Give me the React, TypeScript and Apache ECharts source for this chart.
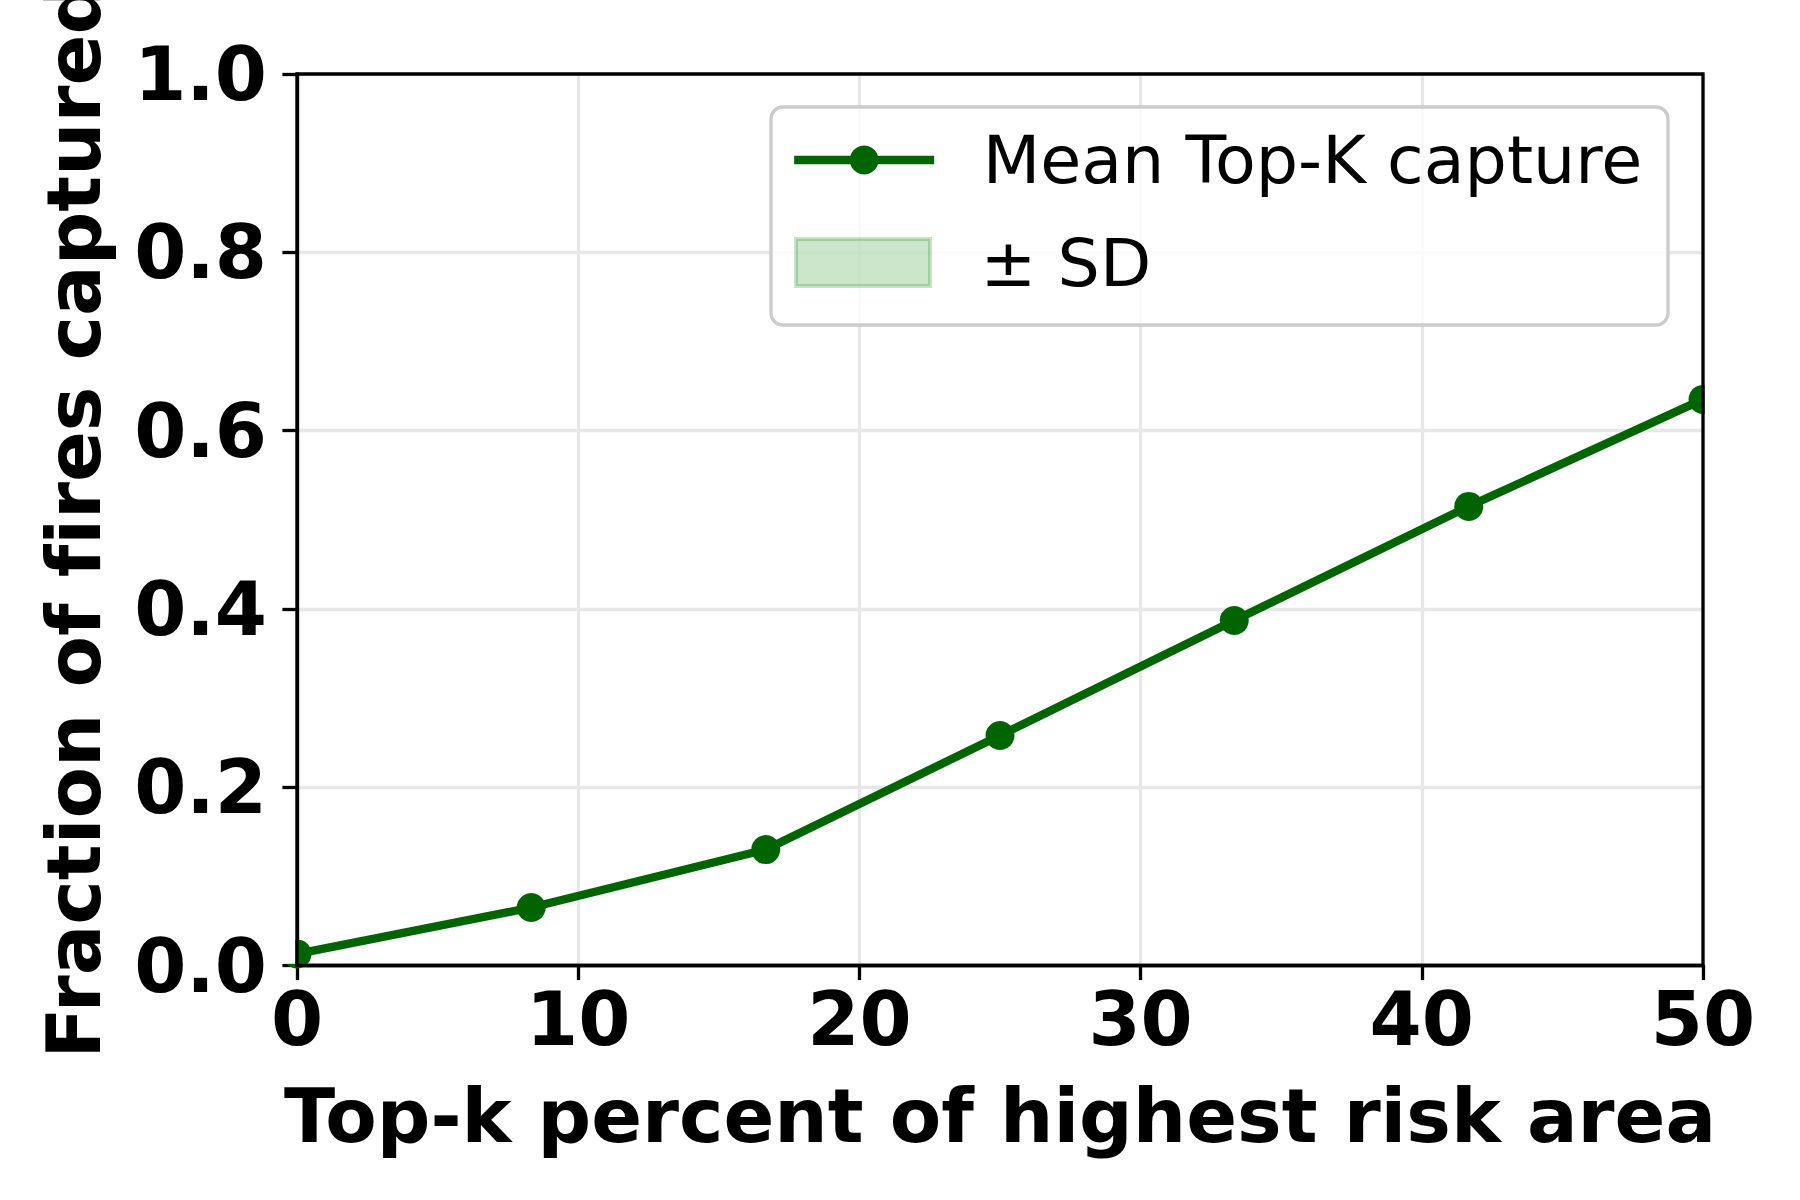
import React, { useEffect, useRef } from "react";
import * as echarts from "echarts";

const xValues = [0, 8.33, 16.67, 25, 33.33, 41.67, 50];
const meanCapture = [0.013, 0.065, 0.13, 0.258, 0.387, 0.515, 0.635];
const sdCapture = [0, 0, 0, 0, 0, 0, 0];
const xAxisTitle = "Top-k percent of highest risk area";
const yAxisTitle = "Fraction of fires captured";
const meanName = "Mean Top-K capture";
const sdName = "± SD";

const GRID_LEFT = 297;
const GRID_RIGHT = 97;
const GRID_TOP = 74;
const GRID_BOTTOM = 234.5;
const W = 1800;
const H = 1200;

export default function App() {
  const ref = useRef<HTMLDivElement>(null);
  useEffect(() => {
    document.body.style.margin = "0";
    const styleEl = document.createElement("style");
    styleEl.textContent =
      'svg text, svg tspan { font-variant-ligatures: none !important; font-feature-settings: "liga" 0, "clig" 0 !important; }';
    document.head.appendChild(styleEl);
    const chart = echarts.init(ref.current!, null, { renderer: "svg" });
    const bold = { fontFamily: "DejaVu Sans", fontWeight: "bold" as const, fontSize: 75, color: "#000", lineHeight: 75 };
    const frame = {
      type: "rect",
      shape: { x: 771, y: 107, width: 897, height: 218, r: 12 },
      style: { fill: "rgba(255,255,255,0.8)", stroke: "#cccccc", lineWidth: 3.3 },
      z: 8,
    };
    chart.setOption({
      animation: false,
      backgroundColor: "#fff",
      grid: {
        left: GRID_LEFT,
        right: GRID_RIGHT,
        top: GRID_TOP,
        bottom: GRID_BOTTOM,
        show: true,
        borderColor: "#000",
        borderWidth: 3.3,
        containLabel: false,
        outerBoundsMode: "none",
        z: 6,
      },
      xAxis: {
        type: "value",
        min: 0,
        max: 50,
        interval: 10,
        name: xAxisTitle,
        nameLocation: "middle",
        nameGap: 112.5,
        nameTextStyle: bold,
        axisLine: { show: true, lineStyle: { color: "#000", width: 3.3 } },
        axisTick: { show: true, length: 14.6, lineStyle: { color: "#000", width: 3.3 } },
        axisLabel: { ...bold, margin: 16 },
        splitLine: { show: true, lineStyle: { color: "#e7e7e7", width: 3.3 } },
      },
      yAxis: {
        type: "value",
        min: 0,
        max: 1,
        interval: 0.2,
        name: yAxisTitle,
        nameLocation: "middle",
        nameRotate: 90,
        nameGap: 185.5,
        nameTextStyle: bold,
        axisLine: { show: true, lineStyle: { color: "#000", width: 3.3 } },
        axisTick: { show: true, length: 14.6, lineStyle: { color: "#000", width: 3.3 } },
        axisLabel: { ...bold, margin: 30, formatter: (v: number) => v.toFixed(1) },
        splitLine: { show: true, lineStyle: { color: "#e7e7e7", width: 3.3 } },
      },
      legend: [
        {
          data: [{ name: meanName }],
          left: 790,
          top: 126.5,
          orient: "vertical",
          padding: 0,
          itemWidth: 140,
          itemHeight: 36,
          selectedMode: false,
          z: 10,
          lineStyle: { width: 8.3, color: "#006400" },
          textStyle: { fontFamily: "DejaVu Sans", fontSize: 66.7, lineHeight: 36, color: "#000", padding: [0, 0, 0, 43.5] },
        },
        {
          data: [
            {
              name: sdName,
              icon: "rect",
              itemStyle: { color: "rgba(0,128,0,0.2)", borderColor: "rgba(0,128,0,0.22)", borderWidth: 4 },
            },
          ],
          left: 794,
          top: 229,
          orient: "vertical",
          padding: 0,
          itemWidth: 134,
          itemHeight: 47,
          selectedMode: false,
          z: 10,
          textStyle: { fontFamily: "DejaVu Sans", fontSize: 66.7, lineHeight: 47, color: "#000", padding: [0, 0, 0, 45.5] },
        },
      ],
      graphic: [frame],
      series: [
        {
          name: sdName,
          type: "custom",
          coordinateSystem: "cartesian2d",
          data: xValues.map((x, i) => [x, meanCapture[i] - sdCapture[i], meanCapture[i] + sdCapture[i]]),
          encode: { x: 0, y: [1, 2] },
          itemStyle: { color: "rgba(0,128,0,0.2)" },
          silent: true,
          z: 1,
          renderItem: (params: any, api: any) => {
            if (params.dataIndex !== 0) return null;
            const upper = xValues.map((x, i) => api.coord([x, meanCapture[i] + sdCapture[i]]));
            const lower = xValues.map((x, i) => api.coord([x, meanCapture[i] - sdCapture[i]])).reverse();
            return {
              type: "polygon",
              shape: { points: upper.concat(lower) },
              style: { fill: "rgba(0,128,0,0.2)", stroke: "rgba(0,128,0,0.2)", lineWidth: 4 },
            };
          },
        },
        {
          name: meanName,
          type: "line",
          data: xValues.map((x, i) => [x, meanCapture[i]]),
          symbol: "circle",
          symbolSize: 29,
          lineStyle: { color: "#006400", width: 8.3 },
          itemStyle: { color: "#006400" },
          z: 3,
        },
      ],
    });

    // clip marker halves that stick out of the axes, like the reference
    const first = chart.convertToPixel({ gridIndex: 0 }, [xValues[0], meanCapture[0]]) as number[];
    const lastI = xValues.length - 1;
    const last = chart.convertToPixel({ gridIndex: 0 }, [xValues[lastI], meanCapture[lastI]]) as number[];
    const leftEdge = GRID_LEFT - 1.7;
    const rightEdge = W - GRID_RIGHT + 1.7;
    const bottomEdge = H - GRID_BOTTOM - 1.7;
    const topEdge = GRID_TOP + 1.7;
    const clipRect = (x0: number, x1: number, y0: number, y1: number) => ({
      type: "rect",
      shape: {
        x: x0,
        y: Math.max(y0, topEdge),
        width: Math.max(0, x1 - x0),
        height: Math.max(0, Math.min(y1, bottomEdge) - Math.max(y0, topEdge)),
      },
      style: { fill: "#fff" },
      silent: true,
      z: 5,
    });
    chart.setOption({
      graphic: [
        frame,
        clipRect(first[0] - 17, leftEdge, first[1] - 17, first[1] + 17),
        clipRect(rightEdge, last[0] + 17, last[1] - 17, last[1] + 17),
      ],
    });
    return () => {
      chart.dispose();
      styleEl.remove();
    };
  }, []);
  return <div ref={ref} style={{ width: W, height: H }} />;
}
